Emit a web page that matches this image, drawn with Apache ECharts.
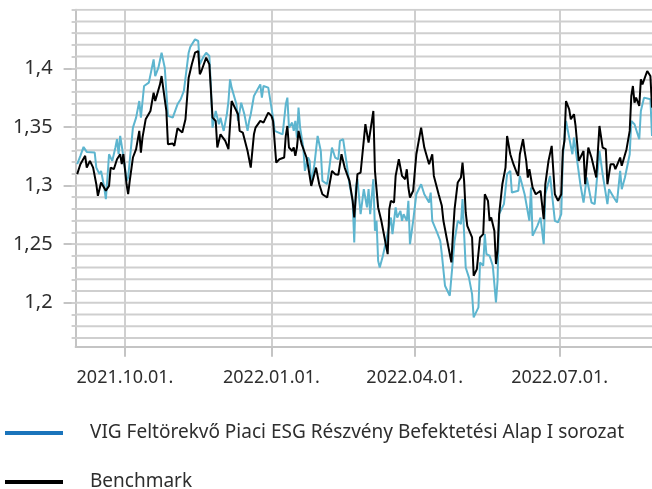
<!DOCTYPE html>
<html><head><meta charset="utf-8">
<script src="https://cdn.jsdelivr.net/npm/echarts@6/dist/echarts.min.js"></script>
<style>html,body{margin:0;padding:0;background:#fff}#c{width:652px;height:489px}</style>
</head><body><div id="c"></div>
<script>
const fundName = 'VIG Feltörekvő Piaci ESG Részvény Befektetési Alap I sorozat';
const benchName = 'Benchmark';

const xTickDates = ['2021-10-01','2022-01-01','2022-04-01','2022-07-01'];
const xTickLabels = ['2021.10.01.','2022.01.01.','2022.04.01.','2022.07.01.'];
const yTickValues = [1.2, 1.25, 1.3, 1.35, 1.4];
const yTickLabels = ['1,2','1,25','1,3','1,35','1,4'];
const yGridValues = [];
for (let i = 117; i <= 145; i++) yGridValues.push(i / 100);

const fundDates = ['2021-09-01','2021-09-03','2021-09-05','2021-09-07','2021-09-12','2021-09-13','2021-09-15','2021-09-16','2021-09-18','2021-09-19','2021-09-20','2021-09-21','2021-09-23','2021-09-25','2021-09-26','2021-09-27','2021-09-28','2021-09-29','2021-10-01','2021-10-02','2021-10-03','2021-10-04','2021-10-06','2021-10-08','2021-10-10','2021-10-11','2021-10-13','2021-10-16','2021-10-19','2021-10-20','2021-10-22','2021-10-24','2021-10-26','2021-10-28','2021-10-31','2021-11-03','2021-11-05','2021-11-07','2021-11-10','2021-11-11','2021-11-14','2021-11-16','2021-11-17','2021-11-19','2021-11-21','2021-11-23','2021-11-24','2021-11-25','2021-11-27','2021-11-29','2021-11-30','2021-12-02','2021-12-04','2021-12-05','2021-12-06','2021-12-07','2021-12-10','2021-12-11','2021-12-13','2021-12-15','2021-12-17','2021-12-18','2021-12-19','2021-12-21','2021-12-25','2021-12-26','2021-12-27','2021-12-30','2022-01-02','2022-01-03','2022-01-08','2022-01-10','2022-01-11','2022-01-12','2022-01-14','2022-01-15','2022-01-16','2022-01-17','2022-01-18','2022-01-19','2022-01-21','2022-01-22','2022-01-24','2022-01-25','2022-01-26','2022-01-28','2022-01-30','2022-02-01','2022-02-02','2022-02-05','2022-02-08','2022-02-10','2022-02-12','2022-02-13','2022-02-15','2022-02-17','2022-02-19','2022-02-21','2022-02-22','2022-02-23','2022-02-24','2022-02-26','2022-02-28','2022-03-02','2022-03-03','2022-03-04','2022-03-06','2022-03-07','2022-03-08','2022-03-09','2022-03-10','2022-03-12','2022-03-14','2022-03-17','2022-03-18','2022-03-20','2022-03-21','2022-03-23','2022-03-24','2022-03-25','2022-03-27','2022-03-28','2022-03-29','2022-03-31','2022-04-02','2022-04-05','2022-04-07','2022-04-10','2022-04-11','2022-04-12','2022-04-15','2022-04-17','2022-04-18','2022-04-20','2022-04-23','2022-04-26','2022-04-28','2022-04-30','2022-05-01','2022-05-03','2022-05-05','2022-05-07','2022-05-08','2022-05-11','2022-05-12','2022-05-14','2022-05-15','2022-05-16','2022-05-18','2022-05-20','2022-05-22','2022-05-23','2022-05-24','2022-05-27','2022-05-29','2022-05-31','2022-06-01','2022-06-05','2022-06-06','2022-06-09','2022-06-12','2022-06-13','2022-06-14','2022-06-17','2022-06-19','2022-06-21','2022-06-22','2022-06-25','2022-06-28','2022-06-30','2022-07-02','2022-07-03','2022-07-05','2022-07-07','2022-07-09','2022-07-10','2022-07-12','2022-07-14','2022-07-16','2022-07-18','2022-07-21','2022-07-23','2022-07-26','2022-07-28','2022-07-31','2022-08-01','2022-08-04','2022-08-06','2022-08-08','2022-08-09','2022-08-11','2022-08-14','2022-08-15','2022-08-17','2022-08-20','2022-08-21','2022-08-23','2022-08-27','2022-08-28'];
const fundValues = [1.3182,1.3253,1.3329,1.3287,1.3281,1.3153,1.3097,1.3125,1.2983,1.2884,1.3068,1.3267,1.3210,1.3324,1.3395,1.3267,1.3423,1.3338,1.3153,1.3040,1.3068,1.3210,1.3494,1.3579,1.3721,1.3579,1.3849,1.3878,1.4076,1.3934,1.4005,1.4133,1.4005,1.3594,1.3579,1.3693,1.3736,1.3807,1.4133,1.4182,1.4247,1.4233,1.4034,1.4091,1.4133,1.4105,1.3835,1.3494,1.3636,1.3523,1.3579,1.3466,1.3608,1.3721,1.3906,1.3835,1.3693,1.3551,1.3707,1.3608,1.3466,1.3551,1.3608,1.3764,1.3863,1.3750,1.3849,1.3835,1.3579,1.3466,1.3437,1.3693,1.3750,1.3494,1.3537,1.3466,1.3551,1.3409,1.3665,1.3494,1.3324,1.3125,1.3239,1.3210,1.3011,1.3182,1.3423,1.3295,1.3040,1.3011,1.3324,1.3239,1.3224,1.3381,1.3395,1.3210,1.3011,1.2869,1.2514,1.2983,1.3054,1.2756,1.2969,1.2813,1.2969,1.2756,1.3054,1.2614,1.2699,1.2358,1.2301,1.2401,1.2529,1.2727,1.2585,1.2813,1.2727,1.2784,1.2699,1.2756,1.2699,1.2869,1.2500,1.2699,1.2926,1.3011,1.2926,1.2855,1.2940,1.2699,1.2600,1.2529,1.2415,1.2145,1.2060,1.2529,1.2699,1.2671,1.2884,1.2301,1.2216,1.2074,1.1875,1.1961,1.2344,1.2316,1.2585,1.2415,1.2401,1.2316,1.2003,1.2188,1.2756,1.2841,1.3097,1.3125,1.2940,1.2955,1.3082,1.2926,1.2699,1.2983,1.2571,1.2656,1.2727,1.2500,1.2926,1.3082,1.2699,1.2685,1.2756,1.3239,1.3551,1.3409,1.3267,1.3409,1.3210,1.3011,1.2855,1.3068,1.2855,1.2841,1.3295,1.3097,1.2841,1.2969,1.2898,1.2855,1.3125,1.2969,1.3068,1.3267,1.3551,1.3523,1.3395,1.3636,1.3750,1.3736,1.3423];

const benchDates = ['2021-09-01','2021-09-03','2021-09-06','2021-09-07','2021-09-09','2021-09-11','2021-09-13','2021-09-14','2021-09-16','2021-09-19','2021-09-21','2021-09-22','2021-09-24','2021-09-26','2021-09-28','2021-09-29','2021-09-30','2021-10-02','2021-10-03','2021-10-04','2021-10-06','2021-10-08','2021-10-10','2021-10-11','2021-10-12','2021-10-14','2021-10-17','2021-10-19','2021-10-20','2021-10-23','2021-10-24','2021-10-27','2021-10-28','2021-10-31','2021-11-01','2021-11-03','2021-11-06','2021-11-08','2021-11-10','2021-11-12','2021-11-14','2021-11-16','2021-11-17','2021-11-18','2021-11-21','2021-11-23','2021-11-25','2021-11-27','2021-11-28','2021-11-30','2021-12-03','2021-12-05','2021-12-07','2021-12-09','2021-12-11','2021-12-12','2021-12-14','2021-12-17','2021-12-19','2021-12-21','2021-12-22','2021-12-25','2021-12-27','2021-12-30','2022-01-01','2022-01-02','2022-01-04','2022-01-06','2022-01-09','2022-01-10','2022-01-11','2022-01-12','2022-01-14','2022-01-15','2022-01-16','2022-01-17','2022-01-18','2022-01-20','2022-01-23','2022-01-24','2022-01-25','2022-01-26','2022-01-27','2022-01-29','2022-01-31','2022-02-02','2022-02-05','2022-02-08','2022-02-10','2022-02-12','2022-02-14','2022-02-16','2022-02-19','2022-02-21','2022-02-22','2022-02-24','2022-02-26','2022-03-01','2022-03-03','2022-03-06','2022-03-07','2022-03-09','2022-03-11','2022-03-15','2022-03-16','2022-03-17','2022-03-19','2022-03-20','2022-03-22','2022-03-24','2022-03-26','2022-03-27','2022-03-28','2022-03-29','2022-03-31','2022-04-02','2022-04-05','2022-04-07','2022-04-10','2022-04-12','2022-04-13','2022-04-16','2022-04-18','2022-04-19','2022-04-21','2022-04-24','2022-04-25','2022-04-26','2022-04-28','2022-04-30','2022-05-01','2022-05-02','2022-05-03','2022-05-04','2022-05-07','2022-05-08','2022-05-10','2022-05-12','2022-05-14','2022-05-15','2022-05-17','2022-05-18','2022-05-19','2022-05-21','2022-05-22','2022-05-23','2022-05-24','2022-05-26','2022-05-28','2022-05-29','2022-05-30','2022-05-31','2022-06-02','2022-06-04','2022-06-05','2022-06-06','2022-06-08','2022-06-09','2022-06-10','2022-06-11','2022-06-12','2022-06-13','2022-06-14','2022-06-16','2022-06-17','2022-06-19','2022-06-21','2022-06-22','2022-06-24','2022-06-26','2022-06-28','2022-06-30','2022-07-02','2022-07-03','2022-07-04','2022-07-05','2022-07-07','2022-07-08','2022-07-10','2022-07-11','2022-07-13','2022-07-16','2022-07-17','2022-07-19','2022-07-21','2022-07-24','2022-07-26','2022-07-28','2022-07-30','2022-07-31','2022-08-02','2022-08-04','2022-08-05','2022-08-08','2022-08-09','2022-08-12','2022-08-14','2022-08-15','2022-08-16','2022-08-17','2022-08-18','2022-08-20','2022-08-21','2022-08-22','2022-08-25','2022-08-27','2022-08-28'];
const benchValues = [1.3097,1.3182,1.3253,1.3153,1.3210,1.3153,1.3011,1.2912,1.3026,1.2955,1.2997,1.3153,1.3139,1.3224,1.3267,1.3182,1.3267,1.3011,1.2926,1.3040,1.3239,1.3310,1.3466,1.3281,1.3409,1.3565,1.3636,1.3792,1.3721,1.3863,1.3934,1.3636,1.3352,1.3358,1.3338,1.3489,1.3452,1.3565,1.3920,1.4034,1.4133,1.4147,1.3949,1.3977,1.4091,1.4034,1.3579,1.3551,1.3324,1.3437,1.3381,1.3310,1.3721,1.3665,1.3608,1.3466,1.3452,1.3295,1.3153,1.3437,1.3494,1.3551,1.3537,1.3622,1.3594,1.3551,1.3196,1.3224,1.3239,1.3423,1.3508,1.3324,1.3295,1.3324,1.3253,1.3324,1.3466,1.3352,1.3239,1.3168,1.3153,1.2997,1.3011,1.3153,1.3011,1.2926,1.2898,1.3125,1.3097,1.3091,1.3267,1.3153,1.3040,1.2869,1.2727,1.3097,1.3111,1.3523,1.3366,1.3636,1.3125,1.2813,1.2699,1.2415,1.2798,1.2869,1.2855,1.3082,1.3224,1.3082,1.3054,1.3139,1.2983,1.2898,1.2955,1.3267,1.3494,1.3324,1.3182,1.3267,1.3082,1.2926,1.2827,1.2699,1.2557,1.2344,1.2585,1.2798,1.3026,1.3068,1.3196,1.3040,1.2770,1.2656,1.2557,1.2230,1.2287,1.2557,1.2585,1.2926,1.2869,1.2699,1.2727,1.2614,1.2330,1.2443,1.2756,1.3011,1.3153,1.3423,1.3409,1.3267,1.3182,1.3111,1.3082,1.3267,1.3395,1.3295,1.3210,1.3068,1.3139,1.3139,1.2983,1.2926,1.2940,1.2955,1.2713,1.3011,1.3210,1.3338,1.2926,1.2869,1.2926,1.3295,1.3381,1.3721,1.3650,1.3565,1.3608,1.3508,1.3210,1.3295,1.3011,1.3324,1.3239,1.3068,1.3508,1.3324,1.3310,1.3011,1.3182,1.3182,1.3139,1.3239,1.3168,1.3310,1.3466,1.3764,1.3849,1.3707,1.3750,1.3679,1.3906,1.3863,1.3977,1.3934,1.3665];

function ts(s) { const p = s.split('-').map(Number); return Date.UTC(p[0], p[1] - 1, p[2]); }
const xTickTs = xTickDates.map(ts);
const xMin = ts('2021-08-31');
const xMax = ts('2022-08-28');
const FONT = '"Noto Sans", sans-serif';
const TXT = '#2e2e2e';
const GRID = '#cfcfcf';
const AXIS = '#c4c4c4';

const gridSeries = yGridValues.map(v => ({
  type: 'line', silent: true, symbol: 'none', showSymbol: false, z: 1, animation: false,
  lineStyle: { color: GRID, width: 2 }, emphasis: { disabled: true }, tooltip: { show: false },
  data: [[xMin, v], [xMax, v]]
}));

const chart = echarts.init(document.getElementById('c'), null, { renderer: 'canvas' });
const yCommon = { type: 'value', min: 1.1625, max: 1.45, position: 'left' };
chart.setOption({
  animation: false,
  backgroundColor: '#ffffff',
  grid: { left: 75.6, right: 0, top: 9.7, bottom: 142.3 },
  legend: [
    { data: [{ name: fundName, itemStyle: { color: '#1a74bb' } }], left: 5, top: 421, padding: 0, selectedMode: false,
      icon: 'rect', itemWidth: 58, itemHeight: 4,
      textStyle: { fontFamily: FONT, fontSize: 19, color: TXT, lineHeight: 24, padding: [0, 0, 0, 22] } },
    { data: [{ name: benchName, itemStyle: { color: '#000000' } }], left: 5, top: 470, padding: 0, selectedMode: false,
      icon: 'rect', itemWidth: 58, itemHeight: 4,
      textStyle: { fontFamily: FONT, fontSize: 19, color: TXT, lineHeight: 24, padding: [0, 0, 0, 22] } }
  ],
  xAxis: {
    type: 'value', min: xMin, max: xMax,
    axisLine: { show: true, onZero: false, lineStyle: { color: AXIS, width: 2 } },
    axisTick: { show: true, customValues: xTickTs, length: 10, lineStyle: { color: AXIS, width: 2 } },
    axisLabel: { show: true, customValues: xTickTs, margin: 22, fontFamily: FONT, fontSize: 18, color: TXT,
      formatter: function (v) { const i = xTickTs.indexOf(v); return i >= 0 ? xTickLabels[i] : ''; } },
    splitLine: { show: true, lineStyle: { color: GRID, width: 2 } }
  },
  yAxis: [
    Object.assign({}, yCommon, {
      axisLine: { show: true, onZero: false, lineStyle: { color: AXIS, width: 2 } },
      axisTick: { show: true, customValues: yTickValues, length: 12, lineStyle: { color: AXIS, width: 2 } },
      axisLabel: { show: true, customValues: yTickValues, margin: 23, fontFamily: FONT, fontSize: 20, color: TXT,
        formatter: function (v) { for (let i = 0; i < yTickValues.length; i++) { if (Math.abs(v - yTickValues[i]) < 1e-6) return yTickLabels[i]; } return ''; } },
      splitLine: { show: false }
    }),
    Object.assign({}, yCommon, {
      axisLine: { show: false },
      axisTick: { show: true, customValues: yGridValues, length: 4, lineStyle: { color: GRID, width: 2 } },
      axisLabel: { show: false },
      splitLine: { show: false }
    })
  ],
  series: gridSeries.concat([
    { name: fundName, type: 'line', showSymbol: false, symbol: 'none', z: 2,
      lineStyle: { color: '#5db5cf', width: 2 }, itemStyle: { color: '#5db5cf' },
      data: fundDates.map((d, i) => [ts(d), fundValues[i]]) },
    { name: benchName, type: 'line', showSymbol: false, symbol: 'none', z: 3,
      lineStyle: { color: '#000000', width: 2 }, itemStyle: { color: '#000000' },
      data: benchDates.map((d, i) => [ts(d), benchValues[i]]) }
  ])
});
</script>
</body></html>
